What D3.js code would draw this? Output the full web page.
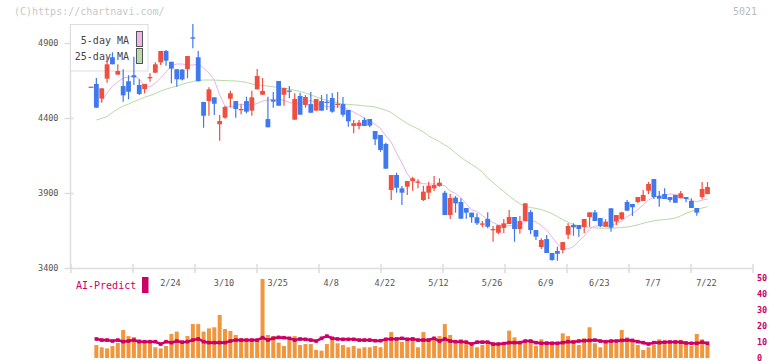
<!DOCTYPE html>
<html lang="en">
<head>
<meta charset="UTF-8">
<script src="https://d3js.org/d3.v7.min.js"></script>
<style>
	body { margin: 0; background: #fff; }
	text { font-family: "DejaVu Sans Mono", "Liberation Mono", monospace; }
</style>
</head>
<body>
<div id="chart"></div>
<script>
// daily candles, k = 0..115 (last one is 7/22)
const open  = [4609,4627,4529,4662,4805,4689,4613,4645,4685,4620,4593,4670,4702,4771,4847,4775,4725,4723,4725,4938,
	4805,4507,4513,4538,4358,4402,4529,4513,4453,4513,4449,4591,4555,4393,4522,4647,4555,4583,4389,4547,
	4487,4493,4449,4513,4509,4533,4491,4493,4453,4347,4347,4387,4393,4313,4287,4227,3920,4020,3931,3942,
	3980,3973,3853,3902,3931,3947,3902,3753,3869,3840,3800,3769,3738,3693,3727,3656,3635,3667,3693,3740,
	3660,3713,3773,3653,3540,3593,3500,3513,3520,3622,3687,3687,3673,3740,3771,3733,3675,3798,3709,3727,
	3840,3827,3840,3847,3915,3993,3880,3893,3873,3887,3865,3873,3847,3800,3873,3893];
const high  = [4609,4667,4598,4805,4838,4758,4725,4685,4809,4658,4627,4698,4771,4847,4853,4775,4725,4727,4813,5027,
	4847,4507,4605,4538,4420,4480,4582,4513,4491,4542,4582,4727,4667,4542,4573,4647,4600,4613,4565,4569,
	4553,4573,4527,4553,4560,4567,4573,4540,4453,4387,4387,4402,4393,4313,4287,4235,4020,4035,3947,3980,
	4009,3991,3949,3975,4013,3998,3915,3893,3880,3865,3800,3769,3765,3713,3771,3680,3685,3727,3787,3740,
	3747,3831,3787,3653,3598,3620,3500,3542,3573,3698,3698,3687,3727,3771,3787,3733,3725,3798,3753,3775,
	3853,3827,3873,3920,3973,3993,3913,3931,3873,3887,3913,3873,3865,3800,3973,3973];
const low   = [4609,4467,4502,4635,4758,4689,4509,4525,4620,4553,4565,4642,4702,4753,4749,4631,4609,4650,4665,4865,
	4645,4335,4415,4420,4249,4395,4471,4402,4425,4431,4415,4591,4555,4338,4469,4482,4482,4531,4389,4422,
	4469,4435,4449,4449,4453,4435,4469,4409,4342,4298,4325,4347,4338,4220,4175,4062,3853,3902,3820,3887,
	3915,3931,3847,3860,3913,3942,3753,3727,3769,3729,3729,3702,3687,3671,3665,3575,3625,3631,3693,3575,
	3629,3713,3625,3587,3527,3500,3449,3449,3498,3593,3615,3609,3631,3675,3713,3671,3675,3642,3687,3720,
	3782,3747,3831,3847,3893,3860,3809,3860,3838,3835,3865,3838,3800,3749,3860,3893];
const close = [4609,4469,4598,4758,4758,4713,4551,4575,4671,4560,4627,4673,4758,4847,4782,4729,4658,4657,4813,4929,
	4645,4415,4591,4495,4380,4473,4565,4460,4460,4442,4538,4680,4580,4338,4509,4482,4600,4580,4527,4422,
	4540,4435,4527,4449,4505,4442,4495,4422,4378,4365,4369,4347,4349,4258,4187,4062,4020,3935,3902,3980,
	3998,3977,3909,3949,3953,3969,3753,3867,3831,3729,3769,3738,3698,3697,3675,3660,3685,3698,3740,3660,
	3713,3831,3653,3609,3587,3500,3453,3495,3573,3680,3671,3660,3727,3771,3713,3680,3709,3669,3753,3771,
	3782,3805,3873,3887,3960,3873,3862,3860,3853,3835,3898,3860,3800,3769,3927,3940];

const ma5 = [null,4513,4513,4567,4613,4640,4667,4673,4680,4660,4613,4607,4633,4667,4707,4747,4760,4760,4753,4753,
	4760,4733,4700,4653,4553,4480,4473,4480,4493,4487,4487,4497,4513,4520,4525,4527,4517,4503,4498,4500,
	4509,4517,4500,4483,4477,4475,4475,4471,4457,4440,4420,4400,4377,4357,4330,4280,4240,4167,4100,4027,
	3980,3967,3962,3960,3960,3957,3947,3913,3897,3870,3827,3787,3777,3750,3723,3703,3687,3682,3683,3680,
	3680,3710,3720,3707,3683,3653,3607,3560,3530,3527,3543,3580,3613,3660,3680,3680,3680,3683,3697,3713,
	3743,3763,3790,3820,3853,3873,3883,3887,3893,3890,3880,3863,3850,3842,3853,3860];
const ma25 = [null,4387,4397,4410,4437,4460,4480,4493,4510,4523,4538,4550,4563,4580,4593,4603,4613,4625,4635,4643,
	4651,4653,4653,4653,4651,4649,4648,4647,4643,4637,4627,4620,4617,4613,4608,4603,4600,4593,4585,4577,
	4567,4553,4541,4528,4518,4509,4501,4493,4491,4488,4485,4481,4478,4473,4463,4451,4437,4410,4387,4363,
	4345,4327,4307,4280,4261,4243,4220,4197,4167,4138,4113,4090,4067,4040,4000,3970,3940,3910,3880,3853,
	3827,3813,3803,3797,3790,3777,3763,3743,3723,3705,3690,3681,3677,3671,3668,3665,3665,3665,3667,3670,
	3673,3680,3688,3698,3707,3715,3720,3723,3727,3733,3747,3765,3777,3791,3800,3809];

const volume = [0,8.1,6.7,6.0,7.5,9.4,17.5,13.7,13.1,11.7,10.2,10.2,6.7,6.0,7.5,15,16.5,10.2,13.7,21.2,
	21.2,16.5,18.5,19.2,26.9,18.1,16.9,14.4,12.3,10.2,11.2,11.7,49.4,14.4,13.7,9.6,7.5,11.2,13.7,8.1,
	8.7,8.7,5,4.6,8.7,12.3,9.2,8.1,6.7,7.5,6,6.7,6.7,7.5,6.7,11.2,16.2,11.2,10,12.1,
	12.9,6.7,16.2,12.3,11.7,13.7,21.2,14.4,10.2,11.7,8.7,7.5,6.7,8.1,8.7,8.1,7.5,7.8,17.1,12.9,
	8.7,11.2,10.8,7.5,11.7,10.6,10.2,9.6,15.4,13.7,11.2,8.1,12.3,19.2,9.2,6.7,10.2,10.8,9.6,17.5,
	12.9,11.2,8.1,5,6.7,8.1,11.7,10.2,9.2,10.8,11.2,9.6,7.5,15,11.7,8.7];
const aiPredict = [null,11.9,11.2,11.2,10.6,11.2,10.2,10.6,11.2,10.2,10.2,10.2,10.2,8.7,10.2,9.6,10.6,9.9,10.2,11.2,
	11.9,10.2,9.6,9.6,9.6,9.6,10.6,11.2,11.2,11.2,11.2,11.2,12.7,11.2,12.3,12.9,12.7,12.3,11.2,11.9,
	11.7,11.2,10.6,12.3,13.7,12.3,11.9,11.7,11.7,11.7,11.2,11.2,11.2,10.8,10.8,11.7,11.9,11.9,12.3,11.7,
	11.9,11.2,11.2,11.2,12.3,10.6,11.9,10.6,10.2,10.2,9.9,8.7,9.9,9.9,9.9,8.7,8.7,9,9.6,9.6,
	9.6,10.6,10.6,9.6,9.2,9.2,9.2,9.2,9.6,10.2,10,10.6,10.8,11,11.2,10.6,10.2,10.6,10.6,11,
	11.2,11,10.2,9.6,8.7,9.6,9.6,9.9,10,10,9.9,9.4,9.2,9.2,9.9,9.2];

const dateLabels = ["2/24","3/10","3/25","4/8","4/22","5/12","5/26","6/9","6/23","7/7","7/22"];
const dateIdx    = [15,25,35,45,55,65,75,85,95,105,115];
const priceTicks = [3400,3900,4400,4900];
const volTicks   = [0,10,20,30,40,50];

const upColor = "#f04f3f", downColor = "#4078ee";
const aiColor = "#cc0066";

const svg = d3.select("#chart").append("svg")
	.attr("width", 772).attr("height", 361);

const x  = d3.scaleLinear().domain([0, close.length - 1]).range([91, 707.5]);
const y  = d3.scaleLinear().domain([3400, 4900]).range([268, 43]);
const yv = d3.scaleLinear().domain([0, 50]).range([358, 278]);
const grid = d3.scaleLinear().domain([0, 11]).range([70.5, 752.5]);

// watermark + code
svg.append("text").attr("x", 14).attr("y", 12).attr("dominant-baseline", "middle")
	.attr("font-size", 10).attr("fill", "#c8c8c8").text("(C)https://chartnavi.com/");
svg.append("text").attr("x", 757).attr("y", 12).attr("dominant-baseline", "middle")
	.attr("text-anchor", "end").attr("font-size", 10).attr("fill", "#bbb").text("5021");

// y axis
svg.append("line").attr("x1", 70.5).attr("x2", 70.5).attr("y1", 24).attr("y2", 268)
	.attr("stroke", "#ddd").attr("stroke-width", 1.5);
const yAxis = svg.append("g").attr("transform", "translate(70.5,0)")
	.call(d3.axisLeft(y).tickValues(priceTicks).tickFormat(d3.format("d")).tickSize(6).tickPadding(6));
yAxis.select(".domain").remove();
yAxis.selectAll(".tick line").attr("x1", 3).attr("x2", -6).attr("stroke", "#ddd").attr("stroke-width", 1.5);
yAxis.selectAll(".tick text").attr("font-size", 8.5).attr("fill", "#555")
	.attr("font-family", "DejaVu Sans Mono, monospace");

// x axis (plain grid ticks)
const xAxis = svg.append("g").attr("transform", "translate(0,268)")
	.call(d3.axisBottom(grid).tickValues(d3.range(12)).tickFormat("").tickSizeOuter(0));
xAxis.select(".domain").attr("stroke", "#ddd").attr("stroke-width", 1.5);
xAxis.selectAll(".tick line").attr("y1", -4).attr("y2", 5).attr("stroke", "#ddd").attr("stroke-width", 1.5);

// date labels
svg.append("g").selectAll("text").data(dateLabels).join("text")
	.attr("x", (d, i) => x(dateIdx[i]) - 1)
	.attr("y", 283)
	.attr("text-anchor", "middle").attr("dominant-baseline", "middle")
	.attr("font-size", 8.5).attr("fill", "#555")
	.text(d => d);

// legend box
const lg = svg.append("g");
lg.append("rect").attr("x", 70.5).attr("y", 24.5).attr("width", 77.5).attr("height", 46.5)
	.attr("fill", "#fff").attr("stroke", "#ddd");
lg.append("text").attr("x", 129).attr("y", 41).attr("text-anchor", "end").attr("dominant-baseline", "middle")
	.attr("font-size", 10).attr("fill", "#444").text("5-day MA");
lg.append("text").attr("x", 129).attr("y", 57).attr("text-anchor", "end").attr("dominant-baseline", "middle")
	.attr("font-size", 10).attr("fill", "#444").text("25-day MA");
lg.append("rect").attr("x", 136.5).attr("y", 31.5).attr("width", 6).attr("height", 15)
	.attr("fill", "#eab8ea").attr("stroke", "#555");
lg.append("rect").attr("x", 136.5).attr("y", 48.5).attr("width", 6).attr("height", 15)
	.attr("fill", "#b8dcaa").attr("stroke", "#555");

// moving averages
const maLine = d => d3.line()
	.defined(v => v != null)
	.x((v, i) => x(i))
	.y(v => y(v))(d);
svg.append("path").attr("d", maLine(ma25)).attr("fill", "none").attr("stroke", "#b4dca4").attr("stroke-width", 1);
svg.append("path").attr("d", maLine(ma5)).attr("fill", "none").attr("stroke", "#e8b4e8").attr("stroke-width", 1);

// candles
const idx = d3.range(close.length);
const candles = svg.append("g").selectAll("g").data(idx).join("g");
candles.append("line")
	.attr("x1", i => x(i)).attr("x2", i => x(i))
	.attr("y1", i => y(high[i])).attr("y2", i => y(low[i]))
	.attr("stroke", i => close[i] >= open[i] ? upColor : downColor)
	.attr("stroke-width", 1.2);
candles.append("rect")
	.attr("x", i => x(i) - 2.4)
	.attr("width", 4.8)
	.attr("y", i => y(Math.max(open[i], close[i])))
	.attr("height", i => Math.max(1.3, Math.abs(y(open[i]) - y(close[i]))))
	.attr("fill", i => close[i] >= open[i] ? upColor : downColor);

// bottom panel: volume bars + AI-Predict
svg.append("g").selectAll("rect").data(volume).join("rect")
	.attr("x", (d, i) => x(i) - 2)
	.attr("width", 4)
	.attr("y", d => yv(d))
	.attr("height", d => yv(0) - yv(d))
	.attr("fill", "#f0963c");

const aiLine = d3.line()
	.defined(v => v != null)
	.x((v, i) => x(i))
	.y(v => yv(v));
svg.append("path").attr("d", aiLine(aiPredict)).attr("fill", "none")
	.attr("stroke", aiColor).attr("stroke-width", 2.6).attr("stroke-linejoin", "round");
svg.append("g").selectAll("rect").data(idx.filter(i => aiPredict[i] != null)).join("rect")
	.attr("x", i => x(i) - 1.8).attr("y", i => yv(aiPredict[i]) - 1.8)
	.attr("width", 3.6).attr("height", 3.6).attr("fill", aiColor);

// right axis labels for bottom panel
svg.append("g").selectAll("text").data(volTicks).join("text")
	.attr("x", 757).attr("y", d => yv(d))
	.attr("dominant-baseline", "middle")
	.attr("font-size", 8.5).attr("font-weight", "bold").attr("fill", aiColor)
	.text(d => d);

// AI-Predict legend
svg.append("text").attr("x", 76).attr("y", 286).attr("dominant-baseline", "middle")
	.attr("font-size", 10).attr("fill", aiColor).text("AI-Predict");
svg.append("rect").attr("x", 142).attr("y", 277).attr("width", 6.5).attr("height", 16).attr("fill", aiColor);
</script>
</body>
</html>
